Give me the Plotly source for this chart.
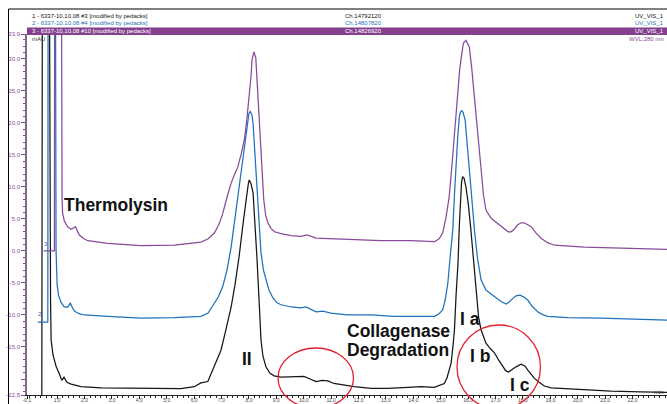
import plotly.graph_objects as go

# ---------------- data ----------------
black_time = [0.0, 0.44, 0.46, 0.72, 0.76, 0.78, 0.85, 0.96, 1.07, 1.17, 1.25, 1.36, 1.51, 1.87, 2.6, 4.43, 5.52,
              6.0, 6.25, 6.5, 6.62, 6.8, 6.98, 7.16, 7.35, 7.49, 7.64, 7.78, 7.89, 7.97, 8.01, 8.07, 8.15, 8.22, 8.29,
              8.37, 8.44, 8.51, 8.62, 8.77, 8.92, 9.17, 9.65, 10.01, 10.23, 10.45, 10.67, 10.88, 11.1, 11.36, 11.84,
              12.46, 13.07, 13.8, 14.28, 14.76, 15.01, 15.13, 15.23, 15.3, 15.38, 15.45, 15.5, 15.56, 15.63, 15.68,
              15.72, 15.76, 15.8, 15.85, 15.92, 16.01, 16.1, 16.2, 16.29, 16.38, 16.47, 16.65, 16.8, 16.96, 17.11,
              17.26, 17.37, 17.47, 17.6, 17.75, 17.93, 18.08, 18.18, 18.3, 18.42, 18.59, 18.78, 19.03, 19.27, 20.12,
              21.22, 22.31, 23.3]
black_mau = [-23.5, -23.5, 40, 40, -7.7, -13.9, -16.25, -18.0, -19.1, -20.2, -19.7, -20.5, -20.8, -21.2, -21.4, -21.5,
             -21.5, -21.2, -20.6, -20.4, -19.1, -17.3, -15.5, -12.3, -8.75, -5.3, -0.9, 4.1, 8.0, 10.3, 11.1, 10.6,
             9.1, 4.5, -0.9, -7.7, -13.9, -16.4, -18.1, -19.1, -19.5, -19.7, -19.7, -19.6, -20.0, -20.4, -20.2, -20.3,
             -20.7, -20.9, -21.2, -21.45, -21.45, -21.3, -21.2, -21.3, -20.9, -20.7, -19.8, -18.6, -17.5, -14.7,
             -12.3, -6.9, -1.9, 4.1, 8.5, 10.8, 11.6, 11.4, 10.0, 7.2, 3.3, -1.7, -7.1, -10.3, -12.3, -14.4, -15.2,
             -15.9, -17.0, -18.1, -18.7, -18.9, -18.5, -18.1, -17.7, -18.0, -18.6, -19.3, -19.9, -20.5, -21.1, -21.4,
             -21.45, -21.6, -21.9, -22.0, -22.1]

blue_time = [0.29, 0.66, 0.67, 0.94, 0.96, 1.0, 1.05, 1.14, 1.25, 1.36, 1.42, 1.48, 1.54, 1.63, 1.8, 1.99, 2.85, 4.06,
             5.27, 6.25, 6.51, 6.73, 6.88, 7.04, 7.2, 7.35, 7.47, 7.59, 7.71, 7.83, 7.96, 8.0, 8.05, 8.11, 8.15, 8.22,
             8.29, 8.37, 8.44, 8.53, 8.62, 8.73, 8.87, 9.03, 9.17, 9.54, 9.9, 10.08, 10.45, 10.7, 10.99, 11.6, 12.46,
             13.3, 14.28, 14.77, 14.94, 15.07, 15.16, 15.26, 15.34, 15.44, 15.5, 15.56, 15.62, 15.68, 15.72, 15.77,
             15.82, 15.89, 15.96, 16.04, 16.13, 16.23, 16.34, 16.47, 16.65, 16.8, 16.96, 17.2, 17.38, 17.49, 17.63,
             17.75, 17.89, 18.04, 18.18, 18.33, 18.54, 18.7, 18.9, 19.63, 20.85, 22.31, 23.3]
blue_mau = [-11.1, -11.1, 40, 40, 0.2, -5.3, -6.9, -8.0, -8.7, -8.8, -8.6, -8.1, -8.7, -9.4, -9.8, -10.0, -10.2, -10.5,
            -10.4, -10.2, -9.7, -8.1, -7.2, -5.6, -3.0, 0.6, 4.5, 8.4, 12.2, 15.8, 20.5, 21.5, 21.8, 21.25, 20.0, 15.0,
            9.5, 4.1, -0.3, -3.0, -4.5, -6.1, -7.3, -8.1, -8.4, -8.75, -8.9, -8.75, -9.5, -9.4, -9.7, -10.0, -10.0,
            -10.2, -10.2, -10.2, -9.8, -9.2, -7.7, -5.0, -1.1, 3.3, 8.75, 13.75, 17.8, 21.0, 21.7, 21.9, 21.6, 20.5,
            17.3, 13.75, 8.4, 3.3, -1.1, -4.5, -6.1, -6.6, -7.1, -7.9, -8.3, -8.0, -7.4, -7.0, -6.9, -7.2, -7.7, -8.6,
            -9.5, -9.9, -10.2, -10.4, -10.5, -10.7, -10.8]

purple_time = [0.51, 0.9, 0.91, 1.16, 1.18, 1.2, 1.26, 1.39, 1.51, 1.6, 1.67, 1.74, 1.81, 1.98, 2.12, 2.85, 4.06, 5.28,
               6.25, 6.51, 6.74, 6.91, 7.04, 7.2, 7.35, 7.47, 7.59, 7.71, 7.83, 7.93, 8.01, 8.08, 8.11, 8.18, 8.25,
               8.31, 8.38, 8.46, 8.54, 8.61, 8.69, 8.81, 8.93, 9.17, 9.54, 9.9, 10.12, 10.45, 10.99, 11.73, 12.82,
               13.92, 14.77, 14.94, 15.07, 15.19, 15.31, 15.41, 15.51, 15.6, 15.69, 15.77, 15.83, 15.92, 16.04, 16.13,
               16.23, 16.35, 16.47, 16.56, 16.65, 16.84, 17.08, 17.32, 17.46, 17.57, 17.68, 17.81, 17.93, 18.05,
               18.19, 18.3, 18.48, 18.66, 18.9, 19.15, 20.24, 21.58, 23.3]
purple_mau = [0.0, 0.0, 40, 40, 8.0, 5.9, 4.7, 3.75, 3.4, 3.6, 3.8, 3.1, 2.5, 1.9, 1.6, 1.2, 0.85, 0.9, 1.4, 1.9, 2.8,
              4.2, 5.8, 8.4, 10.6, 11.9, 13.1, 15.0, 17.3, 20.8, 24.1, 27.5, 29.8, 31.1, 30.2, 25.9, 20.0, 13.4, 8.0,
              5.6, 4.4, 3.5, 3.0, 2.7, 2.4, 2.3, 2.5, 2.0, 1.9, 1.7, 1.6, 1.6, 1.45, 1.9, 2.8, 5.2, 8.5, 13.4, 18.9,
              23.6, 28.3, 30.9, 32.5, 32.9, 31.9, 28.6, 24.1, 18.1, 12.7, 8.75, 6.4, 5.1, 4.3, 3.4, 3.0, 3.0, 3.4, 4.1,
              4.4, 4.4, 4.1, 3.8, 2.8, 2.0, 1.3, 0.9, 0.6, 0.4, 0.25]

assert len(black_time) == len(black_mau)
assert len(blue_time) == len(blue_mau)
assert len(purple_time) == len(purple_mau)

x_tick_vals = [-0.1] + list(range(1, 23))
x_tick_text = ["-0,1"] + [f"{v},0" for v in range(1, 23)]
y_tick_vals = [-22.5, -20, -15, -10, -5, 0, 5, 10, 15, 20, 25, 30, 33.9]
y_tick_text = ["-22,5", "", "-15,0", "-10,0", "-5,0", "0,0", "5,0", "10,0", "15,0", "20,0", "25,0", "30,0", "33,9"]

header_names = ["1 - 6337-10,10,08 #3 [modified by pedacks]",
                "2 - 6337-10,10,08 #4 [modified by pedacks]",
                "3 - 6337-10,10,08 #10 [modified by pedacks]"]
header_channels = ["Ch.14792120", "Ch.14807820", "Ch.14826920"]
header_signal = ["UV_VIS_1", "UV_VIS_1", "UV_VIS_1"]

BLACK = "#161616"
BLUE = "#1f72bb"
PURPLE = "#8a4a9c"
BAND = "#853f8e"
RED = "#e2222f"

W, H = 667, 404
L, R, T, B = 27, 0, 34, 9
PW, PH = W - L - R, H - T - B


def px(xp):
    return (xp - L) / PW


def py(yp):
    return (H - B - yp) / PH


fig = go.Figure()
for tt, vv, col in [(black_time, black_mau, BLACK), (blue_time, blue_mau, BLUE), (purple_time, purple_mau, PURPLE)]:
    fig.add_trace(go.Scatter(x=tt, y=vv, mode="lines", line=dict(color=col, width=1.25), hoverinfo="skip",
                             showlegend=False))

small = "Liberation Sans Narrow, Arial Narrow, Liberation Sans, Arial"
bold = "Liberation Sans, Arial, Helvetica"

fig.update_layout(
    width=W, height=H,
    margin=dict(l=L, r=R, t=T, b=B, pad=0, autoexpand=False),
    paper_bgcolor="white", plot_bgcolor="white",
    xaxis=dict(range=[-0.1, -0.1 + PW / 27.4], showgrid=False, zeroline=False, automargin=False,
               showline=True, linecolor="#222", linewidth=1,
               ticks="outside", ticklen=3, tickcolor="#222", tickwidth=1,
               tickvals=x_tick_vals, ticktext=x_tick_text, ticklabelstandoff=-3,
               tickfont=dict(size=5, color="#444", family=small),
               minor=dict(dtick=0.2, tick0=0, ticks="outside", ticklen=2, tickcolor="#222")),
    yaxis=dict(range=[-22.5, 33.9], showgrid=False, zeroline=False, automargin=False,
               showline=True, linecolor="#7e6c88", linewidth=1.5,
               ticks="outside", ticklen=4, tickcolor=PURPLE, tickwidth=1,
               tickvals=y_tick_vals, ticktext=y_tick_text,
               tickfont=dict(size=6, color=PURPLE, family=small),
               minor=dict(dtick=1, tick0=0, ticks="outside", ticklen=2, tickcolor=PURPLE)),
)

shapes = []
# outer frame (left and top)
shapes.append(dict(type="line", xref="paper", yref="paper", x0=px(8.5), x1=px(700), y0=py(9), y1=py(9),
                   line=dict(color="black", width=1)))
shapes.append(dict(type="line", xref="paper", yref="paper", x0=px(8.5), x1=px(8.5), y0=py(9), y1=py(420),
                   line=dict(color="black", width=1)))
# highlighted header row
shapes.append(dict(type="rect", xref="paper", yref="paper", x0=px(27), x1=px(700), y0=py(35), y1=py(27.5),
                   fillcolor=BAND, line=dict(width=0), layer="above"))
# red circles
shapes.append(dict(type="circle", xref="paper", yref="paper", x0=px(278), x1=px(353.5), y0=py(408), y1=py(348),
                   line=dict(color=RED, width=1.3)))
shapes.append(dict(type="circle", xref="paper", yref="paper", x0=px(457), x1=px(540.5), y0=py(409), y1=py(325),
                   line=dict(color=RED, width=1.3)))
fig.update_layout(shapes=shapes)

ann = []
row_y = [16, 23, 31]
row_col = [BLACK, BLUE, "white"]
for i in range(3):
    for xpix, txt, anchor in [(30, header_names[i], "left"), (343, header_channels[i], "left"),
                              (666, header_signal[i], "right")]:
        ann.append(dict(x=px(xpix), y=py(row_y[i]), xref="paper", yref="paper", text=txt, showarrow=False,
                        xanchor=anchor, yanchor="middle", font=dict(size=6, color=row_col[i], family=small)))
ann.append(dict(x=px(666), y=py(38.5), xref="paper", yref="paper", text="WVL:280 nm", showarrow=False,
                xanchor="right", yanchor="middle", font=dict(size=6, color=PURPLE, family=small)))
ann.append(dict(x=px(29.5), y=py(38.5), xref="paper", yref="paper", text="mAU", showarrow=False,
                xanchor="left", yanchor="middle", font=dict(size=6, color="#333", family=small)))
ann.append(dict(x=px(666), y=py(391.5), xref="paper", yref="paper", text="min", showarrow=False,
                xanchor="right", yanchor="middle", font=dict(size=6, color="#333", family=small)))
# trace number labels
ann.append(dict(x=blue_time[0] + 0.08, y=blue_mau[0] + 0.45, text="2", showarrow=False, xanchor="center",
                yanchor="bottom", font=dict(size=6, color=BLUE, family=small)))
ann.append(dict(x=purple_time[0] + 0.08, y=purple_mau[0] + 0.3, text="3", showarrow=False, xanchor="center",
                yanchor="bottom", font=dict(size=6, color=PURPLE, family=small)))

big = dict(size=17.5, color="#111", family=bold, weight="bold")
for txt, xpix, ypix in [("Thermolysin", 62, 204.5), ("II", 239.5, 359), ("Collagenase", 345, 330.5),
                        ("Degradation", 345, 349.5), ("I a", 457.5, 318.5), ("I b", 467.5, 355.5),
                        ("I c", 507.5, 384.5)]:
    ann.append(dict(x=px(xpix), y=py(ypix), xref="paper", yref="paper", text=txt, showarrow=False,
                    xanchor="left", yanchor="middle", font=big))
fig.update_layout(annotations=ann)

fig.write_html("out.html", config={"displayModeBar": False},
               post_script="document.body.style.margin='0';")
